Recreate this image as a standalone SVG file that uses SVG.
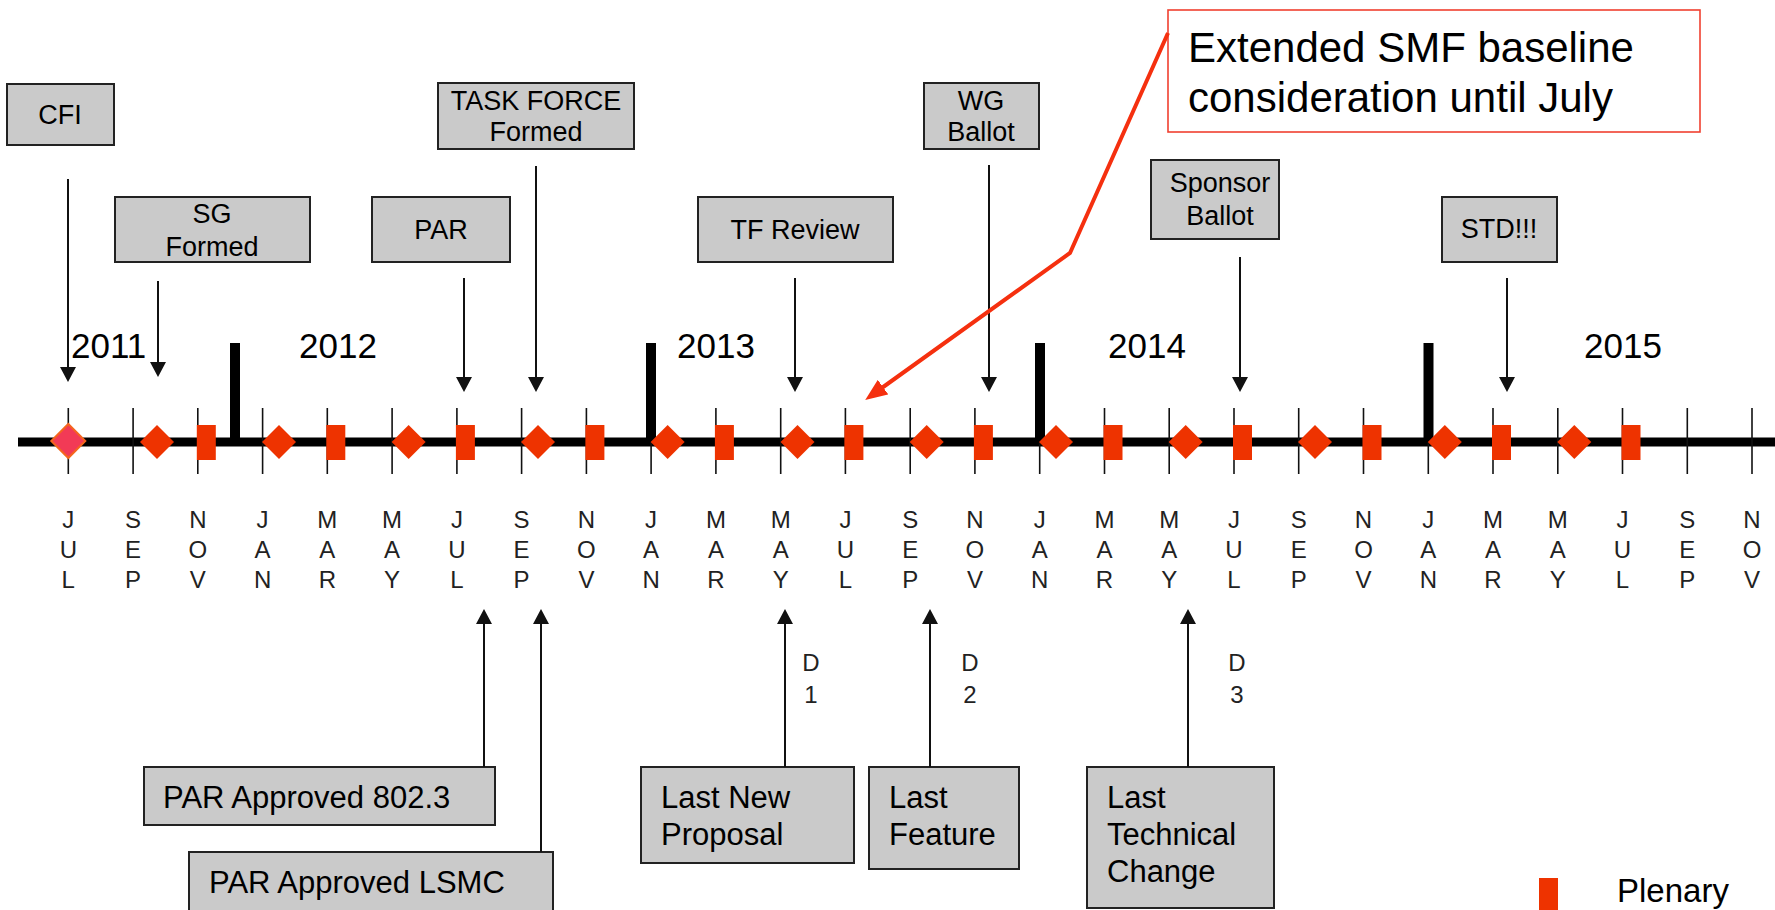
<svg xmlns="http://www.w3.org/2000/svg" width="1775" height="910" viewBox="0 0 1775 910">
<style>
text{font-family:"Liberation Sans",Arial,sans-serif;fill:#000}
.box{fill:#cacaca;stroke:#222;stroke-width:2}
.bt{font-size:27px;text-anchor:middle}
.bb{font-size:31px}
.yr{font-size:35px}
.mo{font-size:24px;text-anchor:middle;fill:#222}
.dl{font-size:24px;text-anchor:middle;fill:#222}
.tick{stroke:#111;stroke-width:1.6}
.bar{fill:#000}
.dia{fill:#ee3300}
.pl{fill:#ee3300}
.arr{stroke:#111;stroke-width:2;fill:none;marker-end:url(#ah)}
.red{stroke:#f5300f;stroke-width:4;fill:none;marker-end:url(#rh)}
</style>
<defs>
<marker id="ah" viewBox="0 0 15 16" markerWidth="15" markerHeight="16" refX="3" refY="8" orient="auto" markerUnits="userSpaceOnUse"><path d="M0,0 L15,8 L0,16 z" fill="#111"/></marker>
<marker id="rh" viewBox="0 0 22 18" markerWidth="22" markerHeight="18" refX="5" refY="9" orient="auto" markerUnits="userSpaceOnUse"><path d="M0,0 L22,9 L0,18 z" fill="#f5300f"/></marker>
</defs>
<rect width="1775" height="910" fill="#fff"/>

<g id="timeline">
<line x1="18" y1="442" x2="1775" y2="442" stroke="#000" stroke-width="9"/>
<g id="ticks">
<line class="tick" x1="68.3" y1="408" x2="68.3" y2="474"/>
<line class="tick" x1="133.1" y1="408" x2="133.1" y2="474"/>
<line class="tick" x1="197.8" y1="408" x2="197.8" y2="474"/>
<line class="tick" x1="262.6" y1="408" x2="262.6" y2="474"/>
<line class="tick" x1="327.3" y1="408" x2="327.3" y2="474"/>
<line class="tick" x1="392.1" y1="408" x2="392.1" y2="474"/>
<line class="tick" x1="456.9" y1="408" x2="456.9" y2="474"/>
<line class="tick" x1="521.6" y1="408" x2="521.6" y2="474"/>
<line class="tick" x1="586.4" y1="408" x2="586.4" y2="474"/>
<line class="tick" x1="651.1" y1="408" x2="651.1" y2="474"/>
<line class="tick" x1="715.9" y1="408" x2="715.9" y2="474"/>
<line class="tick" x1="780.7" y1="408" x2="780.7" y2="474"/>
<line class="tick" x1="845.4" y1="408" x2="845.4" y2="474"/>
<line class="tick" x1="910.2" y1="408" x2="910.2" y2="474"/>
<line class="tick" x1="974.9" y1="408" x2="974.9" y2="474"/>
<line class="tick" x1="1039.7" y1="408" x2="1039.7" y2="474"/>
<line class="tick" x1="1104.5" y1="408" x2="1104.5" y2="474"/>
<line class="tick" x1="1169.2" y1="408" x2="1169.2" y2="474"/>
<line class="tick" x1="1234.0" y1="408" x2="1234.0" y2="474"/>
<line class="tick" x1="1298.7" y1="408" x2="1298.7" y2="474"/>
<line class="tick" x1="1363.5" y1="408" x2="1363.5" y2="474"/>
<line class="tick" x1="1428.3" y1="408" x2="1428.3" y2="474"/>
<line class="tick" x1="1493.0" y1="408" x2="1493.0" y2="474"/>
<line class="tick" x1="1557.8" y1="408" x2="1557.8" y2="474"/>
<line class="tick" x1="1622.5" y1="408" x2="1622.5" y2="474"/>
<line class="tick" x1="1687.3" y1="408" x2="1687.3" y2="474"/>
<line class="tick" x1="1752.0" y1="408" x2="1752.0" y2="474"/>
</g>
<g id="yearbars">
<rect class="bar" x="230" y="343" width="10" height="99"/>
<rect class="bar" x="646" y="343" width="10" height="99"/>
<rect class="bar" x="1035" y="343" width="10" height="99"/>
<rect class="bar" x="1423.5" y="343" width="10" height="99"/>
</g>
<g id="years">
<text class="yr" x="71" y="358">2011</text>
<text class="yr" x="299" y="358">2012</text>
<text class="yr" x="677" y="358">2013</text>
<text class="yr" x="1108" y="358">2014</text>
<text class="yr" x="1584" y="358">2015</text>
</g>
<g id="markers">
<path d="M68.3,424 L85.3,441 L68.3,458 L51.3,441 z" fill="#f23a56" stroke="#f5651e" stroke-width="2"/>
<path class="dia" d="M157,425 L174,442 L157,459 L140,442 z"/>
<path class="dia" d="M279,425 L296,442 L279,459 L262,442 z"/>
<path class="dia" d="M408.6,425 L425.6,442 L408.6,459 L391.6,442 z"/>
<path class="dia" d="M538,425 L555,442 L538,459 L521,442 z"/>
<path class="dia" d="M667.6,425 L684.6,442 L667.6,459 L650.6,442 z"/>
<path class="dia" d="M797.5,425 L814.5,442 L797.5,459 L780.5,442 z"/>
<path class="dia" d="M926.7,425 L943.7,442 L926.7,459 L909.7,442 z"/>
<path class="dia" d="M1056,425 L1073,442 L1056,459 L1039,442 z"/>
<path class="dia" d="M1185.7,425 L1202.7,442 L1185.7,459 L1168.7,442 z"/>
<path class="dia" d="M1315,425 L1332,442 L1315,459 L1298,442 z"/>
<path class="dia" d="M1444.8,425 L1461.8,442 L1444.8,459 L1427.8,442 z"/>
<path class="dia" d="M1574.3,425 L1591.3,442 L1574.3,459 L1557.3,442 z"/>
<rect class="pl" x="196.8" y="425" width="19" height="35"/>
<rect class="pl" x="326.3" y="425" width="19" height="35"/>
<rect class="pl" x="455.9" y="425" width="19" height="35"/>
<rect class="pl" x="585.4" y="425" width="19" height="35"/>
<rect class="pl" x="714.9" y="425" width="19" height="35"/>
<rect class="pl" x="844.4" y="425" width="19" height="35"/>
<rect class="pl" x="973.9" y="425" width="19" height="35"/>
<rect class="pl" x="1103.5" y="425" width="19" height="35"/>
<rect class="pl" x="1233" y="425" width="19" height="35"/>
<rect class="pl" x="1362.5" y="425" width="19" height="35"/>
<rect class="pl" x="1492" y="425" width="19" height="35"/>
<rect class="pl" x="1621.5" y="425" width="19" height="35"/>
</g>
<g id="months">
<text class="mo" x="68.3" y="528">J<tspan x="68.3" dy="30">U</tspan><tspan x="68.3" dy="30">L</tspan></text>
<text class="mo" x="133.1" y="528">S<tspan x="133.1" dy="30">E</tspan><tspan x="133.1" dy="30">P</tspan></text>
<text class="mo" x="197.8" y="528">N<tspan x="197.8" dy="30">O</tspan><tspan x="197.8" dy="30">V</tspan></text>
<text class="mo" x="262.6" y="528">J<tspan x="262.6" dy="30">A</tspan><tspan x="262.6" dy="30">N</tspan></text>
<text class="mo" x="327.3" y="528">M<tspan x="327.3" dy="30">A</tspan><tspan x="327.3" dy="30">R</tspan></text>
<text class="mo" x="392.1" y="528">M<tspan x="392.1" dy="30">A</tspan><tspan x="392.1" dy="30">Y</tspan></text>
<text class="mo" x="456.9" y="528">J<tspan x="456.9" dy="30">U</tspan><tspan x="456.9" dy="30">L</tspan></text>
<text class="mo" x="521.6" y="528">S<tspan x="521.6" dy="30">E</tspan><tspan x="521.6" dy="30">P</tspan></text>
<text class="mo" x="586.4" y="528">N<tspan x="586.4" dy="30">O</tspan><tspan x="586.4" dy="30">V</tspan></text>
<text class="mo" x="651.1" y="528">J<tspan x="651.1" dy="30">A</tspan><tspan x="651.1" dy="30">N</tspan></text>
<text class="mo" x="715.9" y="528">M<tspan x="715.9" dy="30">A</tspan><tspan x="715.9" dy="30">R</tspan></text>
<text class="mo" x="780.7" y="528">M<tspan x="780.7" dy="30">A</tspan><tspan x="780.7" dy="30">Y</tspan></text>
<text class="mo" x="845.4" y="528">J<tspan x="845.4" dy="30">U</tspan><tspan x="845.4" dy="30">L</tspan></text>
<text class="mo" x="910.2" y="528">S<tspan x="910.2" dy="30">E</tspan><tspan x="910.2" dy="30">P</tspan></text>
<text class="mo" x="974.9" y="528">N<tspan x="974.9" dy="30">O</tspan><tspan x="974.9" dy="30">V</tspan></text>
<text class="mo" x="1039.7" y="528">J<tspan x="1039.7" dy="30">A</tspan><tspan x="1039.7" dy="30">N</tspan></text>
<text class="mo" x="1104.5" y="528">M<tspan x="1104.5" dy="30">A</tspan><tspan x="1104.5" dy="30">R</tspan></text>
<text class="mo" x="1169.2" y="528">M<tspan x="1169.2" dy="30">A</tspan><tspan x="1169.2" dy="30">Y</tspan></text>
<text class="mo" x="1234" y="528">J<tspan x="1234" dy="30">U</tspan><tspan x="1234" dy="30">L</tspan></text>
<text class="mo" x="1298.7" y="528">S<tspan x="1298.7" dy="30">E</tspan><tspan x="1298.7" dy="30">P</tspan></text>
<text class="mo" x="1363.5" y="528">N<tspan x="1363.5" dy="30">O</tspan><tspan x="1363.5" dy="30">V</tspan></text>
<text class="mo" x="1428.3" y="528">J<tspan x="1428.3" dy="30">A</tspan><tspan x="1428.3" dy="30">N</tspan></text>
<text class="mo" x="1493" y="528">M<tspan x="1493" dy="30">A</tspan><tspan x="1493" dy="30">R</tspan></text>
<text class="mo" x="1557.8" y="528">M<tspan x="1557.8" dy="30">A</tspan><tspan x="1557.8" dy="30">Y</tspan></text>
<text class="mo" x="1622.5" y="528">J<tspan x="1622.5" dy="30">U</tspan><tspan x="1622.5" dy="30">L</tspan></text>
<text class="mo" x="1687.3" y="528">S<tspan x="1687.3" dy="30">E</tspan><tspan x="1687.3" dy="30">P</tspan></text>
<text class="mo" x="1752" y="528">N<tspan x="1752" dy="30">O</tspan><tspan x="1752" dy="30">V</tspan></text>
</g>
</g>

<g id="n-cfi"><rect class="box" x="7" y="84" width="107" height="61"/><text class="bt" x="60" y="124">CFI</text></g>
<g id="n-sg"><rect class="box" x="115" y="197" width="195" height="65"/><text class="bt" x="212" y="223">SG</text><text class="bt" x="212" y="256">Formed</text></g>
<g id="n-par"><rect class="box" x="372" y="197" width="138" height="65"/><text class="bt" x="441" y="239">PAR</text></g>
<g id="n-tf"><rect class="box" x="438" y="83" width="196" height="66"/><text class="bt" x="536" y="110">TASK FORCE</text><text class="bt" x="536" y="141">Formed</text></g>
<g id="n-tfr"><rect class="box" x="698" y="197" width="195" height="65"/><text class="bt" x="795" y="239">TF Review</text></g>
<g id="n-wg"><rect class="box" x="924" y="83" width="115" height="66"/><text class="bt" x="981" y="110">WG</text><text class="bt" x="981" y="141">Ballot</text></g>
<g id="n-sponsor"><rect class="box" x="1151" y="160" width="128" height="79"/><text class="bt" x="1220" y="192">Sponsor</text><text class="bt" x="1220" y="225">Ballot</text></g>
<g id="n-std"><rect class="box" x="1442" y="197" width="115" height="65"/><text class="bt" x="1499" y="238">STD!!!</text></g>

<g id="n-callout"><rect x="1168" y="10" width="532" height="122" fill="#fff" stroke="#f04030" stroke-width="1.6"/><text x="1188" y="62" font-size="42">Extended SMF baseline</text><text x="1188" y="112" font-size="42">consideration until July</text></g>

<g id="n-par8023"><rect class="box" x="144" y="767" width="351" height="58"/><text class="bb" x="163" y="808">PAR Approved 802.3</text></g>
<g id="n-parlsmc"><rect class="box" x="189" y="852" width="364" height="66"/><text class="bb" x="209" y="893">PAR Approved LSMC</text></g>
<g id="n-lnp"><rect class="box" x="641" y="767" width="213" height="96"/><text class="bb" x="661" y="808">Last New</text><text class="bb" x="661" y="845">Proposal</text></g>
<g id="n-lf"><rect class="box" x="869" y="767" width="150" height="102"/><text class="bb" x="889" y="808">Last</text><text class="bb" x="889" y="845">Feature</text></g>
<g id="n-ltc"><rect class="box" x="1087" y="767" width="187" height="141"/><text class="bb" x="1107" y="808">Last</text><text class="bb" x="1107" y="845">Technical</text><text class="bb" x="1107" y="882">Change</text></g>

<g id="drafts">
<text class="dl" x="811" y="671">D<tspan x="811" dy="32">1</tspan></text>
<text class="dl" x="970" y="671">D<tspan x="970" dy="32">2</tspan></text>
<text class="dl" x="1237" y="671">D<tspan x="1237" dy="32">3</tspan></text>
</g>

<g id="legend"><rect class="pl" x="1539" y="878" width="19" height="40"/><text x="1617" y="902" font-size="33">Plenary</text></g>

<g id="connectors">
<line class="arr" x1="68" y1="179" x2="68" y2="370"/>
<line class="arr" x1="158" y1="281" x2="158" y2="365"/>
<line class="arr" x1="464" y1="278" x2="464" y2="380"/>
<line class="arr" x1="536" y1="166" x2="536" y2="380"/>
<line class="arr" x1="795" y1="278" x2="795" y2="380"/>
<line class="arr" x1="989" y1="165" x2="989" y2="380"/>
<line class="arr" x1="1240" y1="257" x2="1240" y2="380"/>
<line class="arr" x1="1507" y1="278" x2="1507" y2="380"/>
<line class="arr" x1="484" y1="767" x2="484" y2="621"/>
<line class="arr" x1="541" y1="852" x2="541" y2="621"/>
<line class="arr" x1="785" y1="767" x2="785" y2="621"/>
<line class="arr" x1="930" y1="767" x2="930" y2="621"/>
<line class="arr" x1="1188" y1="767" x2="1188" y2="621"/>
<polyline class="red" points="1168,33 1070,253 879,390"/>
</g>
</svg>
